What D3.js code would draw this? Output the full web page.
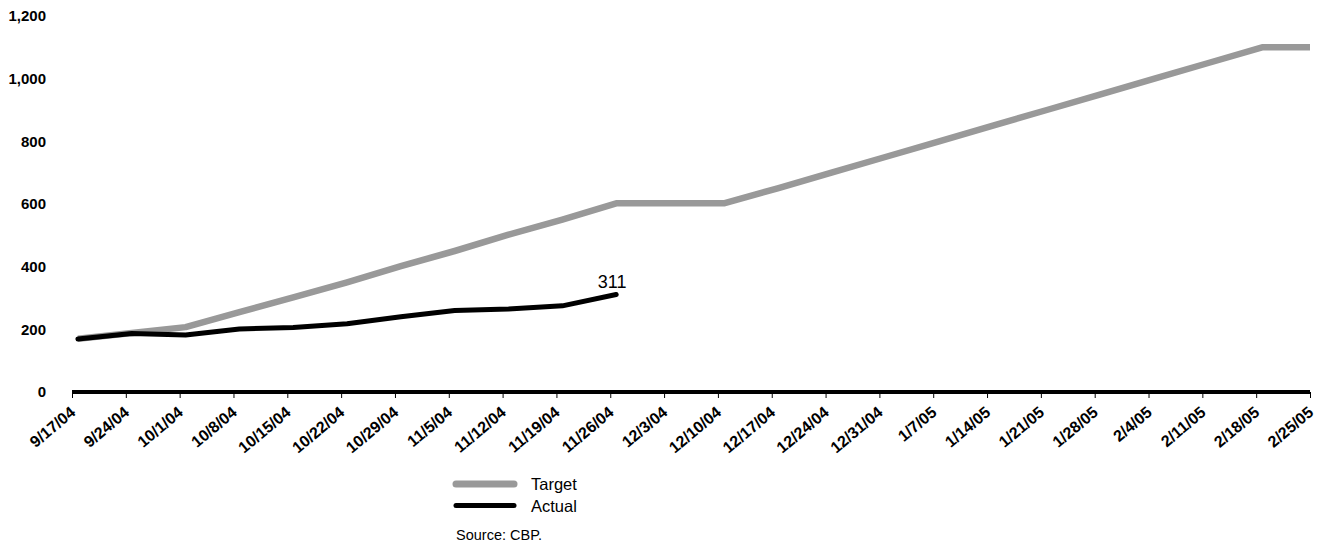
<!DOCTYPE html>
<html><head><meta charset="utf-8">
<script src="https://cdn.jsdelivr.net/npm/d3@7"></script>
<style>body{margin:0;background:#fff}svg{display:block}</style>
</head><body>
<svg id="c" width="1325" height="546"></svg>
<script>
const categories = ["9/17/04","9/24/04","10/1/04","10/8/04","10/15/04","10/22/04","10/29/04","11/5/04","11/12/04","11/19/04","11/26/04","12/3/04","12/10/04","12/17/04","12/24/04","12/31/04","1/7/05","1/14/05","1/21/05","1/28/05","2/4/05","2/11/05","2/18/05","2/25/05"];
const targetValues = [170,188,207,255,302,350,402,450,502,550,602,602,602,650,700,750,800,850,900,950,1000,1050,1100,1100];
const actualValues = [169,187,182,201,206,218,240,260,265,275,311];
const yTicks = [0,200,400,600,800,1000,1200];
const seriesNames = ["Target","Actual"];
const seriesColors = ["#999999","#000000"];
const sourceText = "Source: CBP.";

(function () {
const svg = d3.select("#c");
const mLeft = 72, mRight = 1310, mTop = 16, mBottom = 392;
const x = d3.scalePoint().domain(d3.range(categories.length)).range([mLeft, mRight]);
const y = d3.scaleLinear().domain([0, 1200]).range([mBottom, mTop]);
const step = x.step();
const px = i => x(i) + step * 0.11;

svg.append("defs").append("clipPath").attr("id","clip")
  .append("rect").attr("x", mLeft).attr("y", 0).attr("width", mRight - mLeft).attr("height", mBottom + 10);

// Y labels
svg.append("g").selectAll("text").data(yTicks).join("text")
  .attr("x", 46).attr("y", d => y(d)).attr("dy", "0.36em")
  .attr("text-anchor", "end")
  .attr("font-family", "Liberation Sans, Arial, sans-serif")
  .attr("font-weight", "bold").attr("font-size", 15)
  .text(d => d3.format(",")(d));

// X axis
const xAxis = d3.axisBottom(x).tickSize(6).tickFormat(i => categories[i]);
const gx = svg.append("g").attr("transform", `translate(0,${mBottom})`).call(xAxis);
gx.select(".domain").remove();
gx.selectAll(".tick line").attr("stroke", "#000").attr("stroke-width", 1);
gx.selectAll(".tick text")
  .attr("font-family", "Liberation Sans, Arial, sans-serif")
  .attr("font-weight", "bold").attr("font-size", 16)
  .attr("fill", "#000")
  .attr("text-anchor", "end")
  .attr("dy", null).attr("y", 0)
  .attr("transform", "translate(4,22) rotate(-40)");

svg.append("line").attr("x1", mLeft).attr("x2", mRight).attr("y1", y(0)).attr("y2", y(0))
  .attr("stroke", "#000").attr("stroke-width", 4);

const line = d3.line().x((d, i) => px(i)).y(d => y(d));
const gl = svg.append("g").attr("clip-path", "url(#clip)");
gl.append("path").datum(targetValues).attr("d", line)
  .attr("fill", "none").attr("stroke", seriesColors[0]).attr("stroke-width", 6.5)
  .attr("stroke-linejoin", "round");
gl.append("path").datum(actualValues).attr("d", line)
  .attr("fill", "none").attr("stroke", seriesColors[1]).attr("stroke-width", 5)
  .attr("stroke-linejoin", "round").attr("stroke-linecap", "round");

const lastI = actualValues.length - 1;
svg.append("text").attr("x", px(lastI) - 4).attr("y", y(actualValues[lastI]) - 7)
  .attr("text-anchor", "middle")
  .attr("font-family", "Liberation Sans, Arial, sans-serif").attr("font-size", 18)
  .text(actualValues[lastI]);

// Legend
const lg = svg.append("g");
seriesNames.forEach((n, i) => {
  const yy = 484 + i * 21.5;
  lg.append("line").attr("x1", 456).attr("x2", 514).attr("y1", yy).attr("y2", yy)
    .attr("stroke", seriesColors[i]).attr("stroke-width", i === 0 ? 7 : 5).attr("stroke-linecap", "round");
  lg.append("text").attr("x", 531).attr("y", yy + 6)
    .attr("font-family", "Liberation Sans, Arial, sans-serif").attr("font-size", 16.5)
    .text(n);
});
svg.append("text").attr("x", 456).attr("y", 540)
  .attr("font-family", "Liberation Sans, Arial, sans-serif").attr("font-size", 14.5)
  .text(sourceText);
})();
</script>
</body></html>
